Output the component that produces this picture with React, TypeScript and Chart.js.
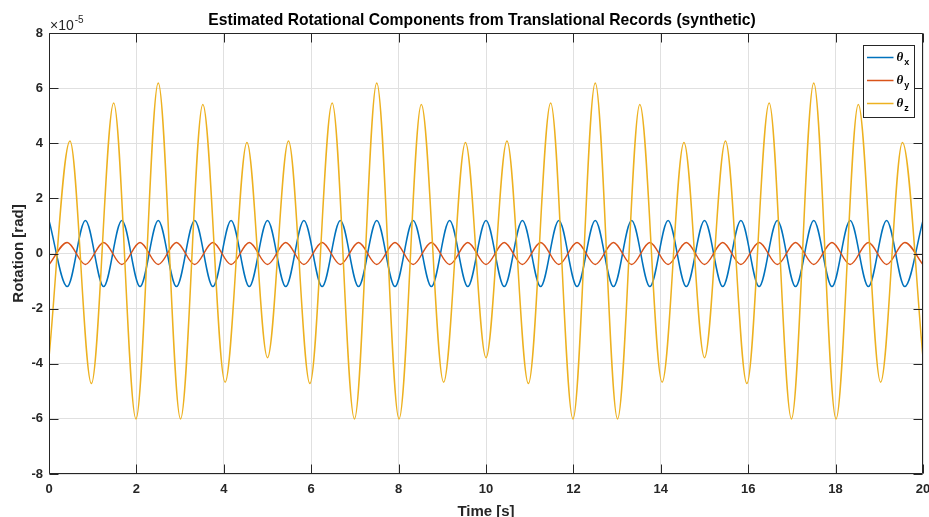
import React, { useEffect, useRef } from "react";
import { Chart, registerables } from "chart.js";

Chart.register(...registerables);

const TITLE = "Estimated Rotational Components from Translational Records (synthetic)";
const X_LABEL = "Time [s]";
const Y_LABEL = "Rotation [rad]";
const X_TICKS = [0, 2, 4, 6, 8, 10, 12, 14, 16, 18, 20];
const Y_TICKS = [-8, -6, -4, -2, 0, 2, 4, 6, 8];
const Y_EXPONENT = -5;
const SERIES_BASE = ["θ", "θ", "θ"];
const SERIES_SUB = ["x", "y", "z"];
const SERIES_COLORS = ["#0072BD", "#D95319", "#EDB120"];

// extrema times (s) of theta_x / theta_y
const T_XY = [
  0, 0.417, 0.833, 1.25, 1.667, 2.083, 2.5, 2.917, 3.333, 3.75, 4.167, 4.583,
  5, 5.417, 5.833, 6.25, 6.667, 7.083, 7.5, 7.917, 8.333, 8.75, 9.167, 9.583,
  10, 10.417, 10.833, 11.25, 11.667, 12.083, 12.5, 12.917, 13.333, 13.75, 14.167, 14.583,
  15, 15.417, 15.833, 16.25, 16.667, 17.083, 17.5, 17.917, 18.333, 18.75, 19.167, 19.583,
  20,
];
// values in units of 1e-5 rad
const THETA_X = [
  1.2, -1.2, 1.2, -1.2, 1.2, -1.2, 1.2, -1.2, 1.2, -1.2, 1.2, -1.2,
  1.2, -1.2, 1.2, -1.2, 1.2, -1.2, 1.2, -1.2, 1.2, -1.2, 1.2, -1.2,
  1.2, -1.2, 1.2, -1.2, 1.2, -1.2, 1.2, -1.2, 1.2, -1.2, 1.2, -1.2,
  1.2, -1.2, 1.2, -1.2, 1.2, -1.2, 1.2, -1.2, 1.2, -1.2, 1.2, -1.2,
  1.2,
];
const THETA_Y = [
  -0.4, 0.4, -0.4, 0.4, -0.4, 0.4, -0.4, 0.4, -0.4, 0.4, -0.4, 0.4,
  -0.4, 0.4, -0.4, 0.4, -0.4, 0.4, -0.4, 0.4, -0.4, 0.4, -0.4, 0.4,
  -0.4, 0.4, -0.4, 0.4, -0.4, 0.4, -0.4, 0.4, -0.4, 0.4, -0.4, 0.4,
  -0.4, 0.4, -0.4, 0.4, -0.4, 0.4, -0.4, 0.4, -0.4, 0.4, -0.4, 0.4,
  -0.4,
];
// extrema times (s) of theta_z
const T_Z = [
  0, 0.48, 0.97, 1.48, 1.99, 2.5, 3.01, 3.52, 4.03, 4.53,
  5, 5.48, 5.97, 6.48, 6.99, 7.5, 8.01, 8.52, 9.03, 9.53,
  10, 10.48, 10.97, 11.48, 11.99, 12.5, 13.01, 13.52, 14.03, 14.53,
  15, 15.48, 15.97, 16.48, 16.99, 17.5, 18.01, 18.52, 19.03, 19.53,
  20,
];
const THETA_Z = [
  -3.77, 4.08, -4.72, 5.46, -6.0, 6.19, -6.0, 5.41, -4.67, 4.03,
  -3.78, 4.08, -4.72, 5.46, -6.0, 6.19, -6.0, 5.41, -4.67, 4.03,
  -3.78, 4.08, -4.72, 5.46, -6.0, 6.19, -6.0, 5.41, -4.67, 4.03,
  -3.78, 4.08, -4.72, 5.46, -6.0, 6.19, -6.0, 5.41, -4.67, 4.03,
  -3.78,
];

const SCALE = Math.pow(10, Y_EXPONENT);
const FONT = '"Liberation Sans", Arial, Helvetica, sans-serif';
const AXIS_COLOR = "#262626";

const toPoints = (ts: number[], vs: number[]) => ts.map((t, i) => ({ x: t, y: vs[i] * SCALE }));

const decorPlugin = {
  id: "matlabDecor",
  afterDatasetsDraw(chart: any) {
    const { ctx, chartArea, scales } = chart;
    const { left, right, top, bottom } = chartArea;
    const L = Math.round(left) + 0.5;
    const R = Math.round(right) - 0.5;
    const T = Math.round(top) + 0.5;
    const B = Math.round(bottom) - 0.5;
    ctx.save();
    ctx.strokeStyle = AXIS_COLOR;
    ctx.lineWidth = 1;
    ctx.beginPath();
    ctx.rect(L, T, R - L, B - T);
    const tl = 9;
    X_TICKS.forEach((v) => {
      const x = Math.round(scales.x.getPixelForValue(v)) + 0.5;
      ctx.moveTo(x, B);
      ctx.lineTo(x, B - tl);
      ctx.moveTo(x, T);
      ctx.lineTo(x, T + tl);
    });
    Y_TICKS.forEach((v) => {
      const y = Math.round(scales.y.getPixelForValue(v * SCALE)) + 0.5;
      ctx.moveTo(L, y);
      ctx.lineTo(L + tl, y);
      ctx.moveTo(R, y);
      ctx.lineTo(R - tl, y);
    });
    ctx.stroke();
    ctx.restore();
  },
  afterDraw(chart: any) {
    const { ctx, chartArea } = chart;
    const { left, right, top } = chartArea;
    ctx.save();
    // title
    ctx.fillStyle = "#000000";
    ctx.font = `bold 15.7px ${FONT}`;
    ctx.textAlign = "center";
    ctx.textBaseline = "middle";
    ctx.fillText(TITLE, (left + right) / 2 - 4, 21);
    // exponent
    ctx.fillStyle = AXIS_COLOR;
    ctx.textAlign = "left";
    ctx.textBaseline = "alphabetic";
    ctx.font = `14px ${FONT}`;
    const base = "×10";
    ctx.fillText(base, left + 1, 30);
    const w = ctx.measureText(base).width;
    ctx.font = `10px ${FONT}`;
    ctx.fillText(String(Y_EXPONENT), left + 2 + w, 23);
    // legend
    const bx = Math.round(right) - 60 + 0.5;
    const by = Math.round(top) + 12 + 0.5;
    const bw = 51;
    const bh = 72;
    ctx.fillStyle = "#ffffff";
    ctx.fillRect(bx, by, bw, bh);
    ctx.strokeStyle = AXIS_COLOR;
    ctx.lineWidth = 1;
    ctx.strokeRect(bx, by, bw, bh);
    SERIES_BASE.forEach((b, i) => {
      const ry = by + 12 + i * 23;
      ctx.strokeStyle = SERIES_COLORS[i];
      ctx.lineWidth = 1.5;
      ctx.beginPath();
      ctx.moveTo(bx + 3.5, ry);
      ctx.lineTo(bx + 30, ry);
      ctx.stroke();
      ctx.fillStyle = "#000000";
      ctx.font = `italic bold 13px "Liberation Serif", "DejaVu Serif", serif`;
      ctx.textBaseline = "middle";
      ctx.fillText(b, bx + 33, ry);
      const bwid = ctx.measureText(b).width;
      ctx.font = `bold 9px ${FONT}`;
      ctx.fillText(SERIES_SUB[i], bx + 34 + bwid, ry + 5);
    });
    ctx.restore();
  },
};

export default function App() {
  const ref = useRef<HTMLCanvasElement | null>(null);
  useEffect(() => {
    if (!ref.current) return;
    const chart = new Chart(ref.current, {
      type: "line",
      data: {
        datasets: [
          {
            label: SERIES_BASE[0] + SERIES_SUB[0],
            data: toPoints(T_XY, THETA_X),
            borderColor: SERIES_COLORS[0],
            order: 3,
          },
          {
            label: SERIES_BASE[1] + SERIES_SUB[1],
            data: toPoints(T_XY, THETA_Y),
            borderColor: SERIES_COLORS[1],
            order: 2,
          },
          {
            label: SERIES_BASE[2] + SERIES_SUB[2],
            data: toPoints(T_Z, THETA_Z),
            borderColor: SERIES_COLORS[2],
            order: 1,
          },
        ].map((d) => ({
          ...d,
          borderWidth: 1.5,
          pointRadius: 0,
          fill: false,
          cubicInterpolationMode: "monotone" as const,
        })),
      },
      options: {
        responsive: false,
        animation: false,
        devicePixelRatio: 1,
        layout: { padding: { top: 33, right: 6, bottom: 0, left: 0 } },
        plugins: {
          legend: { display: false },
          title: { display: false },
          tooltip: { enabled: false },
        },
        scales: {
          x: {
            type: "linear",
            min: 0,
            max: 20,
            afterBuildTicks: (s: any) => {
              s.ticks = X_TICKS.map((v) => ({ value: v }));
            },
            afterFit: (s: any) => {
              s.height = 43;
              s.paddingLeft = 0;
              s.paddingRight = 0;
            },
            grid: { color: "#e0e0e0", lineWidth: 1, drawTicks: false },
            border: { display: false },
            ticks: {
              padding: 8,
              color: AXIS_COLOR,
              font: { family: FONT, size: 13, weight: "bold" },
              maxRotation: 0,
              autoSkip: false,
              callback: (v: any) => String(v),
            },
            title: {
              display: true,
              text: X_LABEL,
              color: AXIS_COLOR,
              font: { family: FONT, size: 15, weight: "bold", lineHeight: 1 },
              padding: { top: 0, bottom: -2 },
            },
          },
          y: {
            type: "linear",
            min: Y_TICKS[0] * SCALE,
            max: Y_TICKS[Y_TICKS.length - 1] * SCALE,
            afterBuildTicks: (s: any) => {
              s.ticks = Y_TICKS.map((v) => ({ value: v * SCALE }));
            },
            afterFit: (s: any) => {
              s.width = 49;
              s.paddingTop = 0;
              s.paddingBottom = 0;
            },
            grid: { color: "#e0e0e0", lineWidth: 1, drawTicks: false },
            border: { display: false },
            ticks: {
              padding: 6,
              color: AXIS_COLOR,
              font: { family: FONT, size: 13, weight: "bold" },
              autoSkip: false,
              callback: (v: any) => String(Math.round(Number(v) / SCALE)),
            },
            title: {
              display: true,
              text: Y_LABEL,
              color: AXIS_COLOR,
              font: { family: FONT, size: 15, weight: "bold", lineHeight: 1 },
              padding: { top: 11, bottom: 0 },
            },
          },
        },
      },
      plugins: [decorPlugin],
    });
    return () => chart.destroy();
  }, []);
  return (
    <canvas
      ref={ref}
      width={929}
      height={517}
      style={{ position: "fixed", left: 0, top: 0, width: 929, height: 517, display: "block", background: "#ffffff" }}
    />
  );
}
